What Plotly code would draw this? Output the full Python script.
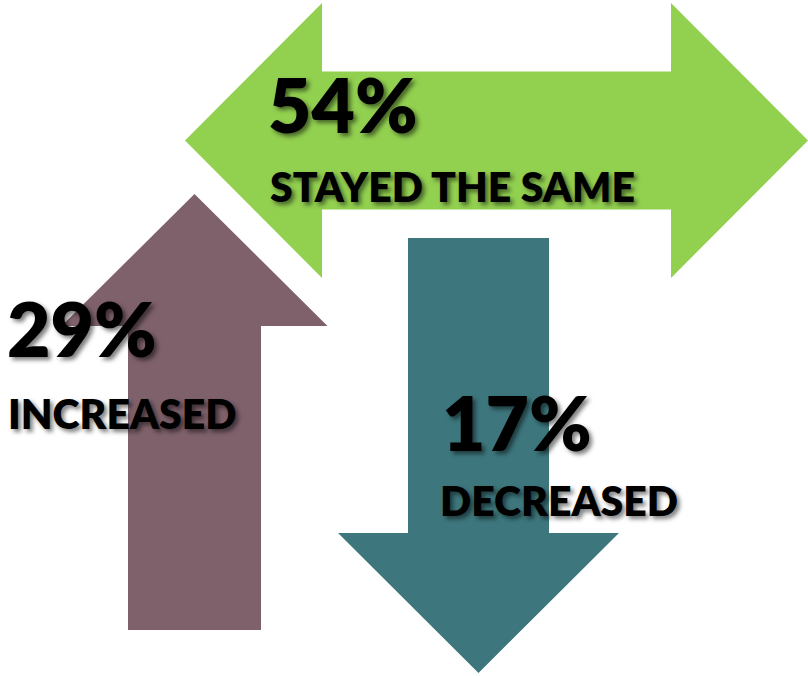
import plotly.graph_objects as go

# ---- data ----
labels = ["STAYED THE SAME", "INCREASED", "DECREASED"]
values = [54, 29, 17]
colors = ["#92D050", "#7E616B", "#3D777D"]

W, H = 808, 676

# arrow geometry (layout, in pixel-like axis units)
def double_arrow(x0, x1, y_mid, shaft_half, head_half, head_len):
    return ([x0, x0 + head_len, x0 + head_len, x1 - head_len, x1 - head_len, x1,
             x1 - head_len, x1 - head_len, x0 + head_len, x0 + head_len, x0],
            [y_mid, y_mid - head_half, y_mid - shaft_half, y_mid - shaft_half, y_mid - head_half, y_mid,
             y_mid + head_half, y_mid + shaft_half, y_mid + shaft_half, y_mid + head_half, y_mid])

def up_arrow(xc, tip, base, shaft_half, head_half, head_y):
    return ([xc, xc + head_half, xc + shaft_half, xc + shaft_half, xc - shaft_half, xc - shaft_half, xc - head_half, xc],
            [tip, head_y, head_y, base, base, head_y, head_y, tip])

shapes_geom = [
    double_arrow(185, 808, 140.5, 69, 137.5, 137),
    up_arrow(194.5, 194, 630, 66.5, 133, 326),
    up_arrow(478.5, 673, 238, 70.5, 140.5, 533),
]

fig = go.Figure()
for (xs, ys), c, lab in zip(shapes_geom, colors, labels):
    fig.add_trace(go.Scatter(x=xs, y=ys, mode="lines", fill="toself", fillcolor=c,
                             line=dict(width=0, color=c), hoverinfo="skip", name=lab,
                             showlegend=False))

# text positions (layout): (x value, y value, x label, y label)
text_pos = [(269, 104, 270, 186), (8, 328, 8, 413), (443, 422, 440, 500)]
shadow = "3px 3px 4px rgba(0,0,0,0.5)"
for lab, v, (xv, yv, xl, yl) in zip(labels, values, text_pos):
    fig.add_annotation(x=xv - 3, y=yv, xref="x", yref="y", xanchor="left", yanchor="middle",
                       text=f"{v}%", showarrow=False,
                       font=dict(family="Lato", size=75, color="black", weight=800, shadow=shadow))
    fig.add_annotation(x=xl - 2, y=yl, xref="x", yref="y", xanchor="left", yanchor="middle",
                       text=lab, showarrow=False,
                       font=dict(family="Lato", size=41, color="black", weight=800, shadow=shadow))

fig.update_xaxes(range=[0, W], visible=False, fixedrange=True)
fig.update_yaxes(range=[H, 0], visible=False, fixedrange=True)
fig.update_layout(width=W, height=H, margin=dict(l=0, r=0, t=0, b=0),
                  paper_bgcolor="white", plot_bgcolor="white", showlegend=False)
fig.write_html("out.html", config={"displayModeBar": False},
               post_script="document.body.style.margin='0';document.body.style.padding='0';")
